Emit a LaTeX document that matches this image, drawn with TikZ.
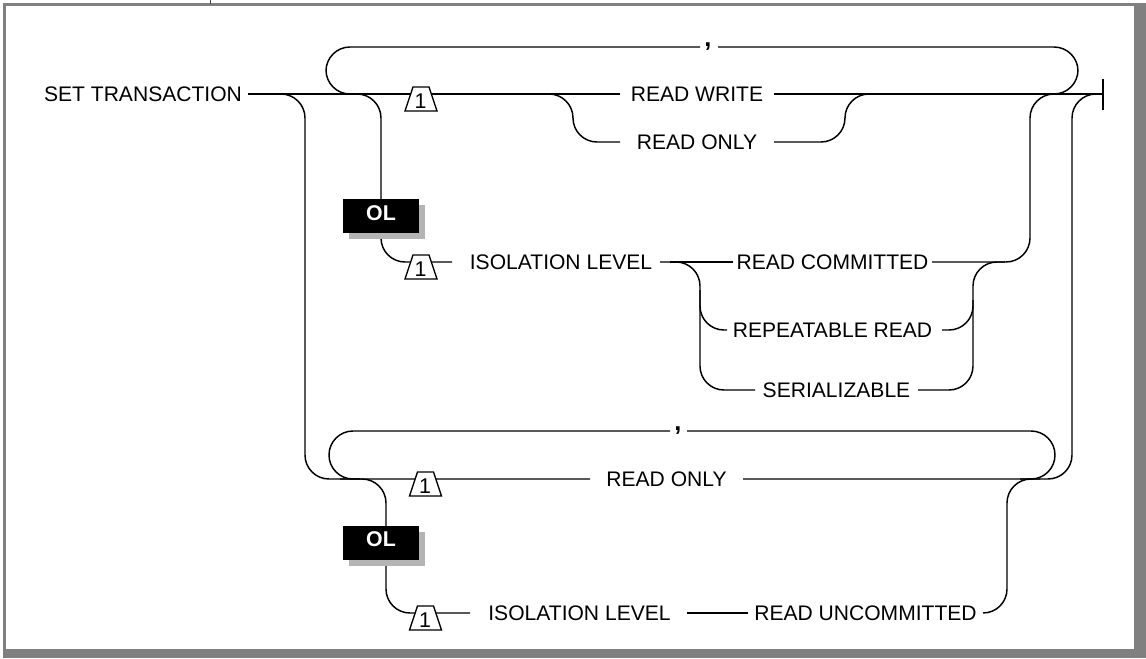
\documentclass[tikz,border=0pt]{standalone}
\usepackage{fontspec}
\setmainfont{Liberation Sans}
\definecolor{framegray}{HTML}{808080}
\definecolor{shadowgray}{HTML}{B4B4B4}
\begin{document}
\begin{tikzpicture}[x=0.75pt,y=-0.75pt,
  rail/.style={line width=1.1pt, rounded corners=18pt, line join=round},
  lbl/.style={inner sep=0pt, font=\fontsize{15.8}{18}\selectfont},
  comma/.style={inner sep=0pt, anchor=base, font=\fontsize{19}{20}\selectfont\bfseries},
  olbox/.style={fill=black, draw=none, minimum width=57pt, minimum height=25.5pt, inner sep=0pt},
  oltext/.style={inner sep=0pt, text=white, font=\fontsize{16}{18}\selectfont\bfseries},
  olshadow/.style={fill=shadowgray, draw=none, minimum width=57pt, minimum height=25.5pt, inner sep=0pt},
  onetri/.pic={
    \draw[line width=1pt, fill=white, line join=miter] (-16,17) -- (-8,-7) -- (8,-7) -- (16,17) -- cycle;
    \node[inner sep=0pt, font=\fontsize{16}{18}\selectfont] (-n) at (-0.5,7.5) {1};
  }]
\useasboundingbox (0,0) rectangle (1146,658);
% frame
\fill[framegray] (3,3) rectangle (1146,5.5);
\fill[framegray] (3,3) rectangle (5.5,652);
\fill[framegray] (1134,3) rectangle (1146,658);
\fill[framegray] (3,649) rectangle (1146,658);
\draw[line width=1pt, black!75] (210.5,0) -- (210.5,4);

% named coordinates
\coordinate (start) at (248,94);
\coordinate (finish) at (1103,94);

% labels
\node[lbl] (st)  at (143,94)   {SET TRANSACTION};
\node[lbl] (rw)  at (697,94)   {READ WRITE};
\node[lbl] (ro1) at (697,142)  {READ ONLY};
\node[lbl] (il1) at (561,262)  {ISOLATION LEVEL};
\node[lbl] (rc)  at (832.5,262){READ COMMITTED};
\node[lbl] (rr)  at (832.5,330){REPEATABLE READ};
\node[lbl] (se)  at (836.5,390){SERIALIZABLE};
\node[lbl] (ro2) at (666.5,479){READ ONLY};
\node[lbl] (il2) at (579.5,613){ISOLATION LEVEL};
\node[lbl] (ru)  at (865.5,613){READ UNCOMMITTED};
\node[comma] (c1) at (708,46) {,};
\node[comma] (c2) at (678,430) {,};

% ---------- upper section ----------
\draw[rail] (start) -- (620,94);
\draw[rail] (774,94) -- (finish);
\draw[line width=1.1pt] (1103,79) -- (1103,110);
% repeat loop (upper)
\draw[rail] (700,47) -- (326,47) -- (326,94) -- (360,94);
\draw[rail] (718,47) -- (1078,47) -- (1078,94) -- (1040,94);
% READ ONLY alternative
\draw[rail] (530,94) -- (573,94) -- (573,142) -- (620,142);
\draw[rail] (774,142) -- (845,142) -- (845,94) -- (880,94);
% OL branch (upper)
\draw[rail] (340,94) -- (381,94) -- (381,199);
\draw[rail] (381,233) -- (381,262) -- (452,262);
\draw[rail] (670,262) -- (733,262);
\draw[rail] (660,262) -- (700,262) -- (700,390) -- (755,390);
\draw[rail] (700,290) -- (700,330) -- (727,330);
\draw[rail] (918,390) -- (973,390) -- (973,262) -- (1005,262);
\draw[rail] (942,330) -- (973,330) -- (973,300);
\draw[rail] (932,262) -- (1030,262) -- (1030,94) -- (1060,94);

% ---------- lower section ----------
\draw[rail] (260,94) -- (305,94) -- (305,479) -- (590,479);
\draw[rail] (670,431) -- (329,431) -- (329,479) -- (360,479);
\draw[rail] (687,431) -- (1055,431) -- (1055,479) -- (1020,479);
\draw[rail] (743,479) -- (1072,479) -- (1072,94) -- (finish);
% OL branch (lower)
\draw[rail] (340,479) -- (386,479) -- (386,526);
\draw[rail] (386,559) -- (386,613) -- (470,613);
\draw[rail] (687,613) -- (748,613);
\draw[rail] (983,613) -- (1007,613) -- (1007,479) -- (1040,479);

% OL boxes
\node[olshadow] (ol1s) at (386.5,221.5) {};
\node[olbox] (ol1) at (381,215.5) {};
\node[oltext] (ol1t) at (381,213) {OL};
\node[olshadow] (ol2s) at (386.5,548.5) {};
\node[olbox] (ol2) at (381,542.5) {};
\node[oltext] (ol2t) at (381,539) {OL};

% triangles
\pic (t1) at (421,94) {onetri};
\pic (t2) at (421,262) {onetri};
\pic (t3) at (425.5,479) {onetri};
\pic (t4) at (425.5,613) {onetri};
\end{tikzpicture}
\end{document}
